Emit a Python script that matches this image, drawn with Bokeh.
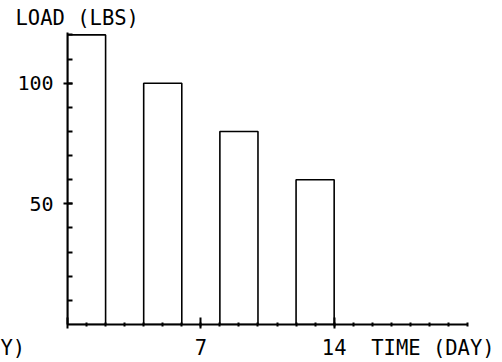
from bokeh.plotting import figure
from bokeh.models import FixedTicker, Range1d
from bokeh.embed import file_html
from bokeh.resources import INLINE

# data
bar_start_day = [0, 4, 8, 12]
bar_width_days = [2, 2, 2, 2]
load_lbs = [120, 100, 80, 60]
x_major = [0, 7, 14]
x_minor = list(range(1, 22))
y_major = [50, 100]
y_minor = list(range(10, 121, 10))
y_title = "LOAD (LBS)"
x_title = "TIME (DAY)"
x_wrap = "Y)"

FONT = "DejaVu Sans Mono"
NB = "\u00a0"

W, H = 502, 362
p = figure(width=W, height=H, output_backend="svg", toolbar_location=None,
           x_range=Range1d(0, 21), y_range=Range1d(0, 121),
           min_border_left=67, min_border_right=35,
           min_border_top=32, min_border_bottom=37)
p.grid.visible = False
p.outline_line_color = None
p.background_fill_color = "white"
p.border_fill_color = "white"

rights = [s + w for s, w in zip(bar_start_day, bar_width_days)]
p.quad(left=bar_start_day, right=rights, bottom=0, top=load_lbs,
       fill_color=None, line_color="black", line_width=1.6)

xa = p.xaxis[0]
xa.ticker = FixedTicker(ticks=x_major, minor_ticks=x_minor)
xa.major_label_overrides = {
    0: x_wrap + NB * 9,
    7: "7",
    14: NB * 12 + "14" + NB * 2 + x_title,
}
xa.axis_line_width = 2
xa.axis_line_color = "black"
xa.major_tick_in = 7
xa.major_tick_out = 4
xa.minor_tick_in = 2
xa.minor_tick_out = 2
xa.major_tick_line_width = 2
xa.minor_tick_line_width = 2
xa.major_tick_line_color = "black"
xa.minor_tick_line_color = "black"
xa.major_label_text_font = FONT
xa.major_label_text_font_size = "20.5px"
xa.major_label_text_color = "black"
xa.major_label_standoff = 7

ya = p.yaxis[0]
ya.ticker = FixedTicker(ticks=y_major, minor_ticks=y_minor)
ya.axis_line_width = 2
ya.axis_line_color = "black"
ya.major_tick_in = 5
ya.major_tick_out = 4
ya.minor_tick_in = 5
ya.minor_tick_out = 0
ya.major_tick_line_width = 2
ya.minor_tick_line_width = 2
ya.major_tick_line_color = "black"
ya.minor_tick_line_color = "black"
ya.major_label_text_font = FONT
ya.major_label_text_font_size = "20px"
ya.major_label_text_color = "black"
ya.major_label_standoff = 10

p.title.text = y_title
p.title.align = "left"
p.title.offset = -52
p.title.standoff = 5
p.title.text_font = FONT
p.title.text_font_size = "20.5px"
p.title.text_font_style = "normal"
p.title.text_color = "black"

open("out.html", "w").write(file_html(p, INLINE))
